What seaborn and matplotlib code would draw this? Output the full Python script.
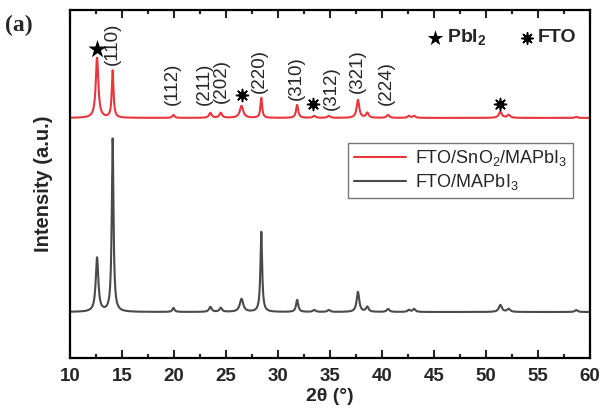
import numpy as np
import pandas as pd
import matplotlib
matplotlib.use('Agg')
import matplotlib.pyplot as plt
from matplotlib.ticker import MultipleLocator
import seaborn as sns

sns.set_style('ticks')
plt.rcParams['font.family'] = ['Liberation Sans', 'DejaVu Sans']
plt.rcParams['mathtext.fontset'] = 'custom'
plt.rcParams['mathtext.rm'] = 'Liberation Sans'
plt.rcParams['mathtext.bf'] = 'Liberation Sans:bold'

# peaks: position (2theta), height (a.u.), width (FWHM, deg)
peak_pos = [12.6, 14.1, 19.95, 23.5, 24.5, 26.5, 28.4, 31.85, 33.5, 34.9,
            37.7, 38.6, 40.6, 42.6, 43.1, 51.4, 52.2, 58.7]
black_h = [54, 173, 4, 5, 4, 13, 80, 12, 2, 2, 20, 5, 3, 2, 3, 7, 3, 2]
red_h = [60, 47, 3, 5, 5, 12, 20, 13, 2, 2, 18, 5, 3, 2, 2, 6, 3, 1]
widths = [0.3, 0.2, 0.25, 0.3, 0.3, 0.4, 0.2, 0.25, 0.3, 0.3,
          0.3, 0.3, 0.3, 0.3, 0.3, 0.35, 0.35, 0.3]
black_base = 46
red_base = 240

hkl_labels = ['(110)', '(112)', '(211)', '(202)', '(220)', '(310)', '(312)', '(321)', '(224)']
hkl_x = [14.1, 19.8, 22.9, 24.6, 28.2, 31.8, 35.1, 37.6, 40.4]
hkl_y = [293, 253, 253, 255, 265, 258, 248, 265, 253]
fto_x = [26.5, 33.4, 51.4]
fto_y = [263, 254, 254]
pbi2_x = [12.6]
pbi2_y = [309]

tt = np.arange(10, 60.001, 0.02)


def profile(heights):
    y = np.zeros_like(tt)
    for p, h, w in zip(peak_pos, heights, widths):
        g = (w / 2) ** 2
        y += h * g / ((tt - p) ** 2 + g)
    return y


def sun(ax, x, y, scale=1.0):
    # FTO marker: filled dot with short rays
    ax.scatter(x, y, marker='o', s=34 * scale, c='k', linewidths=0, zorder=5, clip_on=False)
    ax.scatter(x, y, marker=(8, 2, 0), s=75 * scale, c='k', linewidths=1.1, zorder=5, clip_on=False)


df = pd.concat([
    pd.DataFrame({'2theta': tt, 'I': profile(red_h) + red_base,
                  'sample': 'FTO/SnO$_2$/MAPbI$_3$'}),
    pd.DataFrame({'2theta': tt, 'I': profile(black_h) + black_base,
                  'sample': 'FTO/MAPbI$_3$'}),
])

fig = plt.figure(figsize=(6.10, 4.12), dpi=100)
ax = fig.add_axes([0.1148, 0.131, 0.852, 0.845])
sns.lineplot(data=df, x='2theta', y='I', hue='sample',
             palette=['#e8363c', '#4a4a4a'], linewidth=1.5, ax=ax, sort=False)

ax.set_xlim(10, 60)
ax.set_ylim(0, 348)
ax.xaxis.set_major_locator(MultipleLocator(5))
ax.xaxis.set_minor_locator(MultipleLocator(2.5))
ax.tick_params(axis='x', which='both', direction='in', top=True, width=1.5)
ax.tick_params(axis='x', which='major', length=6, labelsize=13.5, pad=7)
ax.tick_params(axis='x', which='minor', length=3)
ax.set_yticks([])
for lab in ax.get_xticklabels():
    lab.set_fontweight('bold')
for s in ax.spines.values():
    s.set_linewidth(1.6)
    s.set_color('black')

ax.set_xlabel('2θ (°)', fontsize=14, fontweight='bold', labelpad=2)
ax.set_ylabel('Intensity (a.u.)', fontsize=14.5, fontweight='bold', labelpad=12)

for t, x, y in zip(hkl_labels, hkl_x, hkl_y):
    ax.text(x, y, t, rotation=90, ha='center', va='bottom', fontsize=13.5)
sun(ax, fto_x, fto_y)
ax.scatter(pbi2_x, pbi2_y, marker='*', s=190, c='k', linewidths=0, zorder=5)

ax.scatter([45.1], [320], marker='*', s=140, c='k', linewidths=0, zorder=5)
ax.text(46.3, 320, 'PbI$_\\mathbf{2}$', ha='left', va='center',
        fontsize=14, fontweight='bold')
sun(ax, [54.0], [320], scale=0.9)
ax.text(55.0, 320, 'FTO', ha='left', va='center', fontsize=14,
        fontweight='bold')

leg = ax.legend(loc='upper right', bbox_to_anchor=(0.985, 0.645), fontsize=13,
                frameon=True, fancybox=False, handlelength=2.9,
                borderpad=0.3, labelspacing=0.25, handletextpad=0.5)
leg.get_frame().set_edgecolor('#555555')
leg.get_frame().set_linewidth(1)
leg.set_title(None)

fig.text(0.008, 0.925, '(a)', fontsize=17, fontweight='bold',
         family='Liberation Serif')

fig.savefig('out.png', dpi=100)
